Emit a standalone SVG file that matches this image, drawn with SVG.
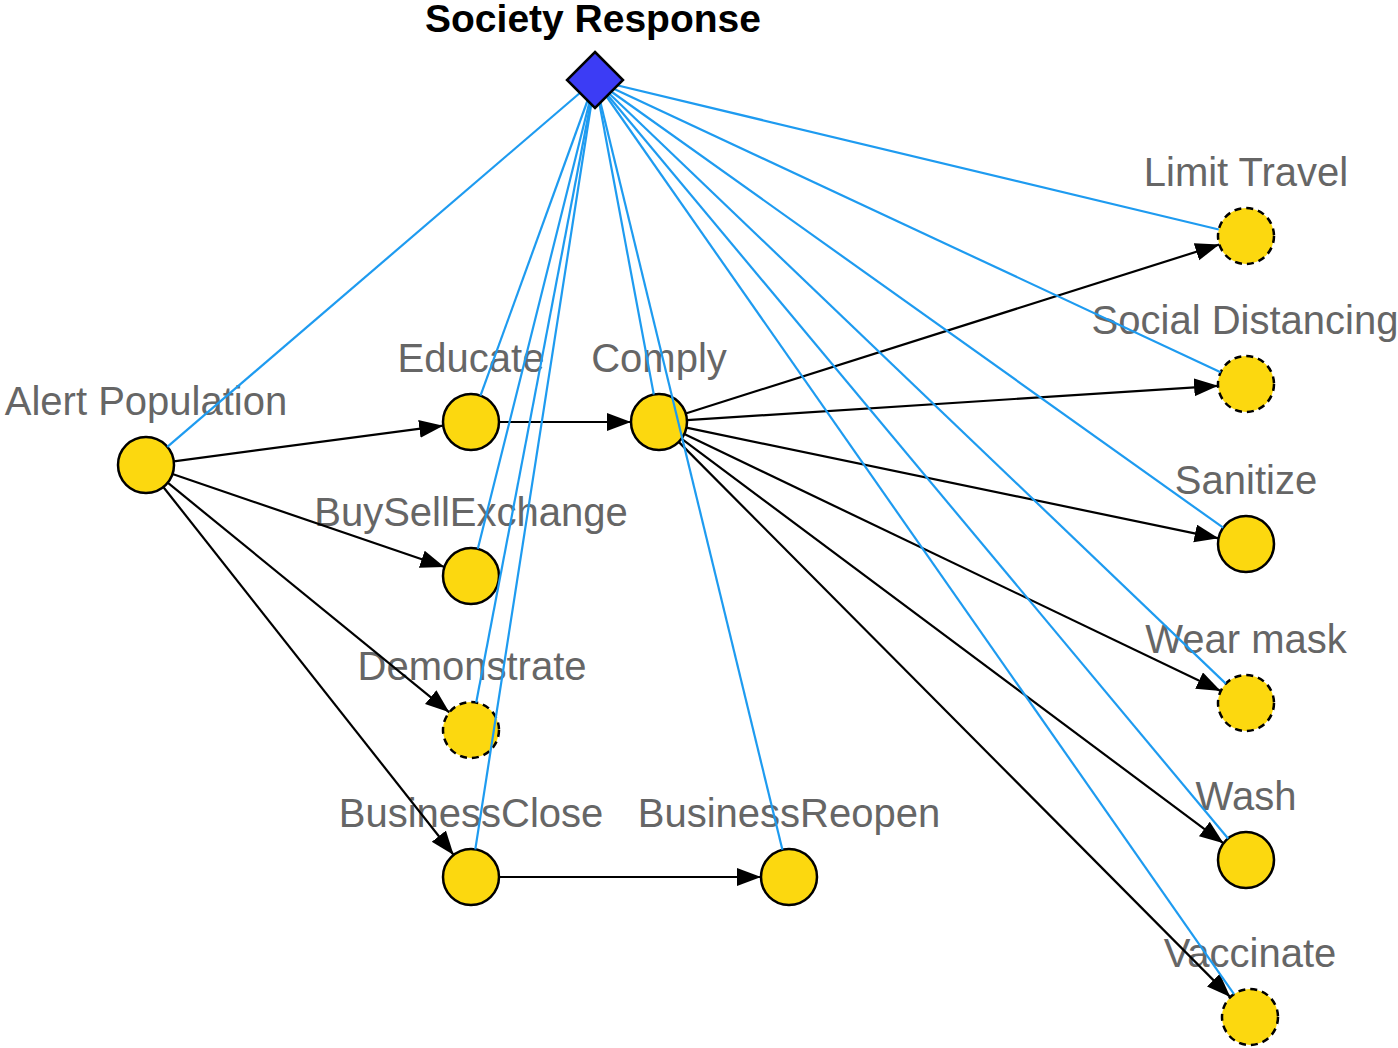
<svg xmlns="http://www.w3.org/2000/svg" width="1398" height="1048" viewBox="0 0 1398 1048">
<style>
.lbl{font-family:"Liberation Sans",Arial,sans-serif;font-size:40px;fill:#666;text-anchor:middle}
.title{font-family:"Liberation Sans",Arial,sans-serif;font-size:39px;font-weight:bold;fill:#000;text-anchor:middle}
.node{fill:#fcd80f;stroke:#000;stroke-width:2.5}
.dash{stroke-dasharray:7 5}
.arr{stroke:#000;stroke-width:2.2;fill:none;marker-end:url(#ah)}
.blue{stroke:#1e9bf0;stroke-width:2.2;fill:none}
</style>
<defs>
<marker id="ah" markerUnits="userSpaceOnUse" markerWidth="26" markerHeight="20" refX="24" refY="9" orient="auto">
<path d="M0,0 L24,9 L0,18 z" fill="#000"/>
</marker>
</defs>
<rect width="1398" height="1048" fill="#fff"/>
<g id="labels">
<text class="title" x="593" y="32">Society Response</text>
<text class="lbl" x="146" y="415">Alert Population</text>
<text class="lbl" x="471" y="372">Educate</text>
<text class="lbl" x="659" y="372">Comply</text>
<text class="lbl" x="471" y="526">BuySellExchange</text>
<text class="lbl" x="472" y="680">Demonstrate</text>
<text class="lbl" x="471" y="827">BusinessClose</text>
<text class="lbl" x="789" y="827">BusinessReopen</text>
<text class="lbl" x="1246" y="186">Limit Travel</text>
<text class="lbl" x="1245" y="334">Social Distancing</text>
<text class="lbl" x="1246" y="494">Sanitize</text>
<text class="lbl" x="1246" y="653">Wear mask</text>
<text class="lbl" x="1246" y="810">Wash</text>
<text class="lbl" x="1250" y="967">Vaccinate</text>
</g>
<g id="node-alert-population"><circle class="node" cx="146" cy="465" r="28"/></g>
<g id="node-educate"><circle class="node" cx="471" cy="422" r="28"/></g>
<g id="node-comply"><circle class="node" cx="659" cy="422" r="28"/></g>
<g id="node-buysellexchange"><circle class="node" cx="471" cy="576" r="28"/></g>
<g id="node-demonstrate"><circle class="node dash" cx="471" cy="730" r="28"/></g>
<g id="node-businessclose"><circle class="node" cx="471" cy="877" r="28"/></g>
<g id="node-businessreopen"><circle class="node" cx="789" cy="877" r="28"/></g>
<g id="node-limit-travel"><circle class="node dash" cx="1246" cy="236" r="28"/></g>
<g id="node-social-distancing"><circle class="node dash" cx="1246" cy="384" r="28"/></g>
<g id="node-sanitize"><circle class="node" cx="1246" cy="544" r="28"/></g>
<g id="node-wear-mask"><circle class="node dash" cx="1246" cy="703" r="28"/></g>
<g id="node-wash"><circle class="node" cx="1246" cy="860" r="28"/></g>
<g id="node-vaccinate"><circle class="node dash" cx="1250" cy="1017" r="28"/></g>
<g id="connectors">
<line class="arr" x1="173.8" y1="461.3" x2="443.2" y2="425.7"/>
<line class="arr" x1="172.5" y1="474.0" x2="444.5" y2="567.0"/>
<line class="arr" x1="167.7" y1="482.7" x2="449.3" y2="712.3"/>
<line class="arr" x1="163.3" y1="487.0" x2="453.7" y2="855.0"/>
<line class="arr" x1="499" y1="422" x2="631" y2="422"/>
<line class="arr" x1="499" y1="877" x2="761" y2="877"/>
<line class="arr" x1="685.7" y1="413.5" x2="1219.3" y2="244.5"/>
<line class="arr" x1="686.9" y1="420.2" x2="1218.1" y2="385.8"/>
<line class="arr" x1="686.4" y1="427.7" x2="1218.6" y2="538.3"/>
<line class="arr" x1="684.3" y1="434.1" x2="1220.7" y2="690.9"/>
<line class="arr" x1="681.4" y1="438.7" x2="1223.6" y2="843.3"/>
<line class="arr" x1="678.7" y1="441.9" x2="1230.3" y2="997.1"/>
<line class="blue" x1="595" y1="80" x2="167.3" y2="446.8"/>
<line class="blue" x1="595" y1="80" x2="480.5" y2="395.7"/>
<line class="blue" x1="595" y1="80" x2="477.8" y2="548.8"/>
<line class="blue" x1="595" y1="80" x2="476.2" y2="702.5"/>
<line class="blue" x1="595" y1="80" x2="475.3" y2="849.3"/>
<line class="blue" x1="595" y1="80" x2="653.8" y2="394.5"/>
<line class="blue" x1="595" y1="80" x2="782.4" y2="849.8"/>
<line class="blue" x1="595" y1="80" x2="1218.8" y2="229.5"/>
<line class="blue" x1="595" y1="80" x2="1220.6" y2="372.2"/>
<line class="blue" x1="595" y1="80" x2="1223.2" y2="527.7"/>
<line class="blue" x1="595" y1="80" x2="1225.8" y2="683.6"/>
<line class="blue" x1="595" y1="80" x2="1228.1" y2="838.5"/>
<line class="blue" x1="595" y1="80" x2="1234.0" y2="994.1"/>
</g>
<g id="node-society-response"><polygon points="595,52 623,80 595,108 567,80" fill="#3c3cf5" stroke="#000" stroke-width="2.5"/></g>
</svg>
